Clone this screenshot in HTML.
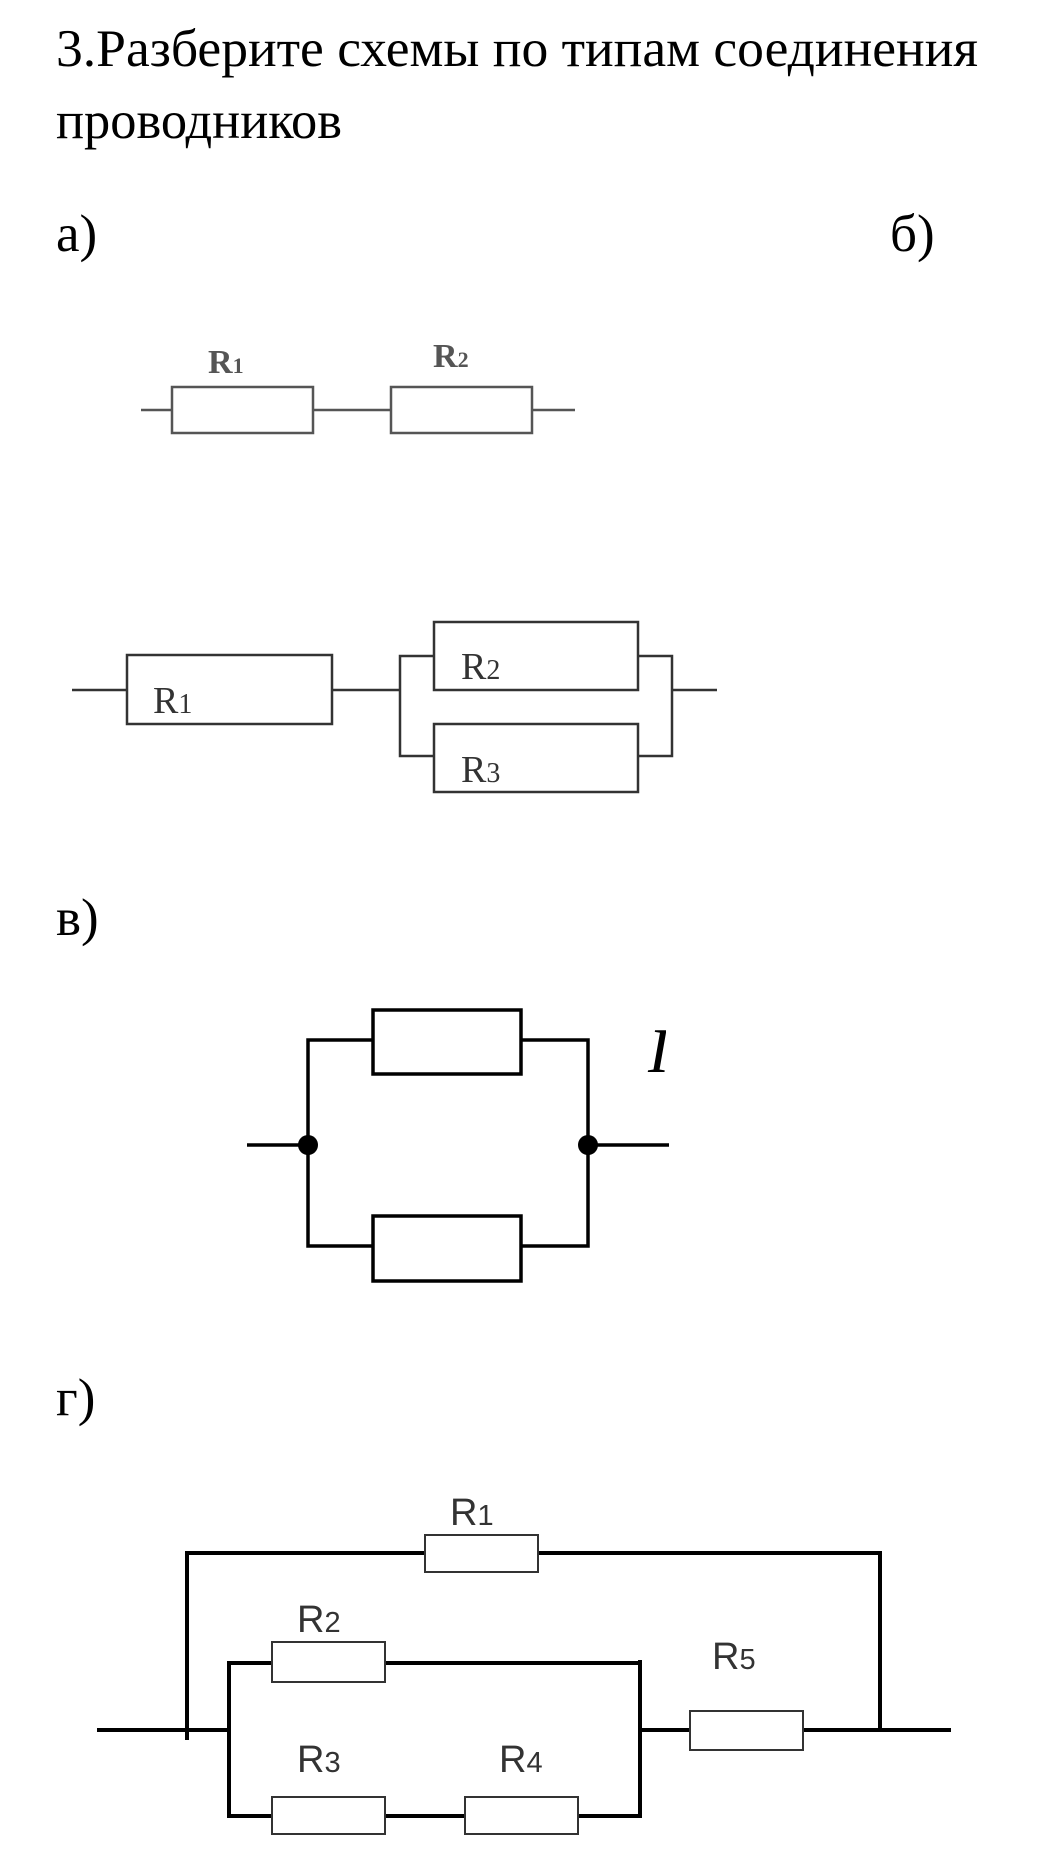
<!DOCTYPE html>
<html><head><meta charset="utf-8"><style>
html,body{margin:0;padding:0;background:#fff;}
body{width:1040px;height:1855px;position:relative;overflow:hidden;}
svg{position:absolute;left:0;top:0;}
</style></head><body>
<svg width="1040" height="1855" viewBox="0 0 1040 1855" xmlns="http://www.w3.org/2000/svg">
<g font-family="Liberation Serif, serif" font-size="53" fill="#000">
<text x="56" y="66" textLength="922" lengthAdjust="spacingAndGlyphs">3.Разберите схемы по типам  соединения</text>
<text x="56" y="138" textLength="286" lengthAdjust="spacingAndGlyphs">проводников</text>
<text x="56" y="251">а)</text>
<text x="890" y="251">б)</text>
<text x="56" y="935">в)</text>
<text x="56" y="1415">г)</text>
</g>
<!-- a -->
<g stroke="#555" stroke-width="2.5" fill="#fff">
<line x1="141" y1="410" x2="575" y2="410"/>
<rect x="172" y="387" width="141" height="46"/>
<rect x="391" y="387" width="141" height="46"/>
</g>
<g font-family="Liberation Serif, serif" font-weight="bold" font-size="34" fill="#555">
<text x="208" y="373">R<tspan font-size="22">1</tspan></text>
<text x="433" y="367">R<tspan font-size="22">2</tspan></text>
</g>
<!-- b -->
<g stroke="#333" stroke-width="2.5" fill="none">
<line x1="72" y1="690" x2="127" y2="690"/>
<rect x="127" y="655" width="205" height="69"/>
<line x1="332" y1="690" x2="400" y2="690"/>
<polyline points="434,656 400,656 400,756 434,756"/>
<rect x="434" y="622" width="204" height="68"/>
<rect x="434" y="724" width="204" height="68"/>
<polyline points="638,656 672,656 672,756 638,756"/>
<line x1="672" y1="690" x2="717" y2="690"/>
</g>
<g font-family="Liberation Serif, serif" font-size="38" fill="#333">
<text x="153" y="713">R<tspan font-size="28">1</tspan></text>
<text x="461" y="679">R<tspan font-size="28">2</tspan></text>
<text x="461" y="782">R<tspan font-size="28">3</tspan></text>
</g>
<!-- v -->
<g stroke="#000" stroke-width="3.5" fill="none">
<polyline points="373,1040 308,1040 308,1246 373,1246"/>
<polyline points="521,1040 588,1040 588,1246 521,1246"/>
<rect x="373" y="1010" width="148" height="64"/>
<rect x="373" y="1216" width="148" height="65"/>
<line x1="247" y1="1145" x2="308" y2="1145"/>
<line x1="588" y1="1145" x2="669" y2="1145"/>
</g>
<circle cx="308" cy="1145" r="10" fill="#000"/>
<circle cx="588" cy="1145" r="10" fill="#000"/>
<text x="648" y="1072" font-family="Liberation Serif, serif" font-style="italic" font-size="64" fill="#000">I</text>
<rect x="666" y="1015" width="50" height="70" fill="#fff"/>
<!-- g -->
<g stroke="#000" stroke-width="4" fill="none">
<line x1="97" y1="1730" x2="229" y2="1730"/>
<line x1="640" y1="1730" x2="690" y2="1730"/>
<line x1="803" y1="1730" x2="951" y2="1730"/>
<polyline points="187,1740 187,1553 880,1553 880,1730"/>
<polyline points="272,1663 229,1663 229,1816 272,1816"/>
<line x1="385" y1="1663" x2="640" y2="1663"/>
<line x1="385" y1="1816" x2="465" y2="1816"/>
<line x1="578" y1="1816" x2="640" y2="1816"/>
<line x1="640" y1="1660" x2="640" y2="1818"/>
</g>
<g stroke="#333" stroke-width="2" fill="#fff">
<rect x="425" y="1535" width="113" height="37"/>
<rect x="272" y="1642" width="113" height="40"/>
<rect x="272" y="1797" width="113" height="37"/>
<rect x="465" y="1797" width="113" height="37"/>
<rect x="690" y="1711" width="113" height="39"/>
</g>
<g font-family="Liberation Sans, sans-serif" font-size="38" fill="#333">
<text x="450" y="1525">R<tspan font-size="29">1</tspan></text>
<text x="297" y="1632">R<tspan font-size="29">2</tspan></text>
<text x="297" y="1772">R<tspan font-size="29">3</tspan></text>
<text x="499" y="1772">R<tspan font-size="29">4</tspan></text>
<text x="712" y="1669">R<tspan font-size="29">5</tspan></text>
</g>
</svg>
</body></html>
